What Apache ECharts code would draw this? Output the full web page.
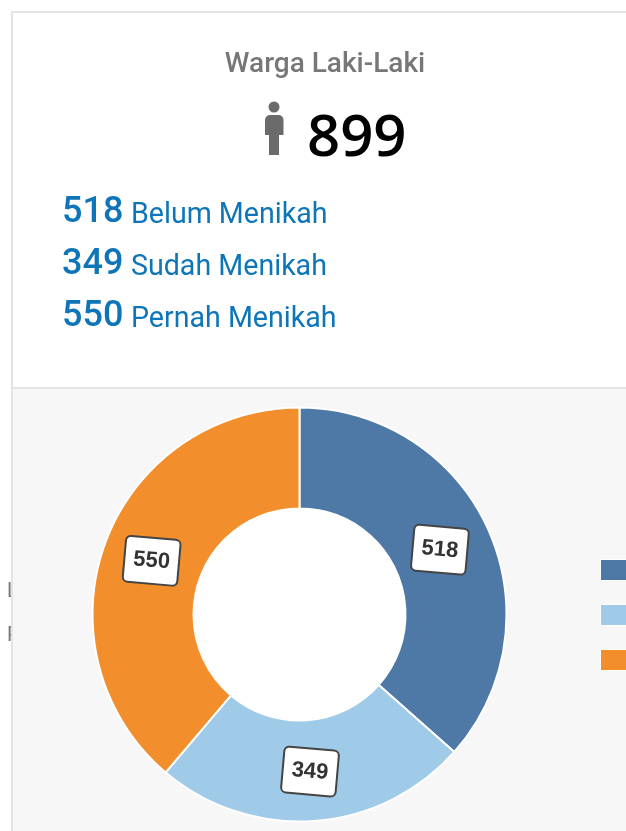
<!DOCTYPE html>
<html lang="en">
<head>
<meta charset="UTF-8">
<title>Warga Laki-Laki</title>
<script src="https://cdn.jsdelivr.net/npm/echarts@6/dist/echarts.min.js"></script>
<style>
html, body { margin: 0; padding: 0; background: #fff; overflow: hidden; }
#main { width: 626px; height: 831px; }
</style>
</head>
<body>
<div id="main"></div>
<script>
var headerTitle = 'Warga Laki-Laki';
var totalCount = '899';
var categories = ['Belum Menikah', 'Sudah Menikah', 'Pernah Menikah'];
var values = [518, 349, 550];
var colors = ['#4e79a7', '#a0cbe8', '#f28e2b'];
var sideLabels = ['L', 'P'];   // cut off by the card on the left

var myChart = echarts.init(document.getElementById('main'));

var graphics = [
    // clipped labels, card goes over them
    { type: 'text', z: 1, style: { x: 7, y: 592, text: sideLabels[0], font: '20px Roboto', fill: '#777', verticalAlign: 'middle' } },
    { type: 'text', z: 1, style: { x: 7, y: 636, text: sideLabels[1], font: '20px Roboto', fill: '#777', verticalAlign: 'middle' } },
    // card
    { type: 'rect', z: 2, shape: { x: 12, y: 12, width: 640, height: 376 }, style: { fill: '#fff', stroke: '#e4e4e4', lineWidth: 2 } },
    { type: 'rect', z: 2, shape: { x: 12, y: 388, width: 640, height: 460 }, style: { fill: '#f7f7f7', stroke: '#e4e4e4', lineWidth: 2 } },
    // donut hole
    { type: 'circle', z: 3, shape: { cx: 299.5, cy: 614.5, r: 108 }, style: { fill: '#fff' } },
    // title
    { type: 'text', z: 4, style: { x: 325, y: 65, text: headerTitle, font: '500 28px Roboto', fill: '#777', align: 'center', verticalAlign: 'middle' } },
    // person icon
    { type: 'circle', z: 4, shape: { cx: 274, cy: 107, r: 5.5 }, style: { fill: '#6b6b6b' } },
    { type: 'rect', z: 4, shape: { x: 265, y: 115, width: 18.5, height: 20, r: [5, 5, 0, 0] }, style: { fill: '#6b6b6b' } },
    { type: 'rect', z: 4, shape: { x: 269, y: 130, width: 10, height: 25 }, style: { fill: '#6b6b6b' } },
    { type: 'text', z: 4, style: { x: 307, y: 139, text: totalCount, font: '600 58px "Open Sans"', fill: '#000', verticalAlign: 'middle' } }
];

// the three blue rows above the donut
for (var i = 0; i < categories.length; i++) {
    var rowY = 213 + i * 52;
    graphics.push({ type: 'text', z: 4, style: { x: 62, y: rowY, text: String(values[i]), font: '500 36px Roboto', fill: '#0e76b8', verticalAlign: 'middle' } });
    graphics.push({ type: 'text', z: 4, style: { x: 131, y: rowY + 3, text: categories[i], font: '28.6px Roboto', fill: '#0e76b8', verticalAlign: 'middle' } });
}

var labelShift = [[-5, 1], [-1, -2], [2, 1]];

var pieData = [];
for (var j = 0; j < categories.length; j++) {
    pieData.push({
        name: categories[j],
        value: values[j],
        itemStyle: { color: colors[j] },
        label: { offset: labelShift[j] }
    });
}

var option = {
    animation: false,
    backgroundColor: '#fff',
    graphic: graphics,
    legend: {
        orient: 'vertical',
        left: 595,
        top: 554,
        icon: 'rect',
        itemWidth: 34,
        itemHeight: 21,
        itemGap: 23,
        z: 5,
        itemStyle: { borderColor: '#fff', borderWidth: 1 },
        textStyle: { fontSize: 14, color: '#333' },
        data: categories
    },
    series: [
        {
            type: 'pie',
            z: 5,
            center: [299.5, 614.5],
            radius: [106, 207],
            startAngle: 90,
            clockwise: true,
            silent: true,
            itemStyle: { borderColor: '#fff', borderWidth: 2 },
            label: {
                show: true,
                position: 'inside',
                rotate: -5,
                formatter: '{c}',
                fontFamily: '"Liberation Sans"',
                fontSize: 22,
                fontWeight: 'bold',
                color: '#333',
                backgroundColor: '#fff',
                borderColor: '#444',
                borderWidth: 2,
                borderRadius: 4,
                padding: [11, 8]
            },
            labelLine: { show: false },
            data: pieData
        }
    ]
};

myChart.setOption(option);
</script>
</body>
</html>
